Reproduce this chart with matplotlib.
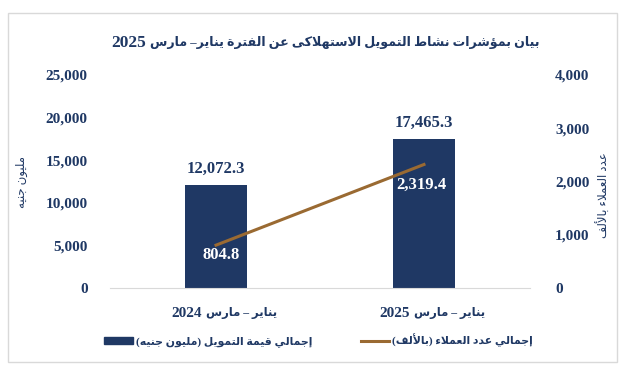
import re
import matplotlib
matplotlib.use("Agg")
import matplotlib.pyplot as plt
from matplotlib.patches import Rectangle, Patch
from matplotlib.lines import Line2D

# ---- data ----
period_names = ["يناير – مارس", "يناير – مارس"]
period_years = ["2024", "2025"]
finance_value = [12072.3, 17465.3]     # مليون جنيه
clients = [804.8, 2319.4]              # بالألف
left_ticks = [0, 5000, 10000, 15000, 20000, 25000]
right_ticks = [0, 1000, 2000, 3000, 4000]

title = "بيان بمؤشرات نشاط التمويل الاستهلاكى عن الفترة يناير– مارس"
title_year = "2025"
left_label = "مليون جنيه"
right_label = "عدد العملاء بالألف"
bar_name = "إجمالي قيمة التمويل (مليون جنيه)"
line_name = "إجمالي عدد العملاء (بالألف)"

NAVY = "#1F3864"
BROWN = "#9A6A32"

# ---- minimal arabic shaping (matplotlib has no bidi / joining) ----
DUAL = {'ئ': 0xFE89, 'ب': 0xFE8F, 'ت': 0xFE95, 'ث': 0xFE99, 'ج': 0xFE9D, 'ح': 0xFEA1,
        'خ': 0xFEA5, 'س': 0xFEB1, 'ش': 0xFEB5, 'ص': 0xFEB9, 'ض': 0xFEBD, 'ط': 0xFEC1,
        'ظ': 0xFEC5, 'ع': 0xFEC9, 'غ': 0xFECD, 'ف': 0xFED1, 'ق': 0xFED5, 'ك': 0xFED9,
        'ل': 0xFEDD, 'م': 0xFEE1, 'ن': 0xFEE5, 'ه': 0xFEE9, 'ي': 0xFEF1}
RIGHT = {'آ': 0xFE81, 'أ': 0xFE83, 'ؤ': 0xFE85, 'إ': 0xFE87, 'ا': 0xFE8D, 'ة': 0xFE93,
         'د': 0xFEA9, 'ذ': 0xFEAB, 'ر': 0xFEAD, 'ز': 0xFEAF, 'و': 0xFEED, 'ى': 0xFEEF}
LAMALEF = {'آ': 0xFEF5, 'أ': 0xFEF7, 'إ': 0xFEF9, 'ا': 0xFEFB}


def is_letter(x):
    return isinstance(x, tuple) or x in DUAL or x in RIGHT or x == 'ء'


def ar(s):
    chars = []
    i = 0
    while i < len(s):
        if s[i] == 'ل' and i + 1 < len(s) and s[i + 1] in LAMALEF:
            chars.append(('LA', s[i + 1]))
            i += 2
        else:
            chars.append(s[i])
            i += 1
    out = []
    for k, x in enumerate(chars):
        prev = chars[k - 1] if k > 0 else None
        nxt = chars[k + 1] if k + 1 < len(chars) else None
        jp = isinstance(prev, str) and prev in DUAL
        jn = nxt is not None and is_letter(nxt)
        if isinstance(x, tuple):
            out.append(chr(LAMALEF[x[1]] + (1 if jp else 0)))
        elif x in DUAL:
            b = DUAL[x]
            out.append(chr(b + (3 if jp and jn else 1 if jp else 2 if jn else 0)))
        elif x in RIGHT:
            out.append(chr(RIGHT[x] + (1 if jp else 0)))
        elif x == 'ء':
            out.append(chr(0xFE80))
        else:
            out.append(x)
    rev = "".join(out)[::-1]
    rev = rev.translate(str.maketrans("()", ")("))
    return re.sub(r"[0-9A-Za-z.,]+", lambda m: m.group(0)[::-1], rev)


plt.rcParams["font.family"] = ["Liberation Serif", "DejaVu Sans"]
plt.rcParams["font.weight"] = "bold"

fig = plt.figure(figsize=(6.25, 3.7), dpi=100)
ax = fig.add_axes([0.176, 0.2216, 0.672, 0.5757])
ax2 = ax.twinx()

x = [0, 1]
ax.bar(x, finance_value, width=0.3, color=NAVY, zorder=2)
ax2.plot(x, clients, color=BROWN, lw=2.2, zorder=3)

ax.set_xlim(-0.51, 1.51)
ax.set_ylim(0, 25000)
ax2.set_ylim(0, 4000)

ax.set_yticks(left_ticks)
ax.set_yticklabels([f"{v:,}" for v in left_ticks])
ax2.set_yticks(right_ticks)
ax2.set_yticklabels([f"{v:,}" for v in right_ticks])
ax.set_xticks(x)
ax.set_xticklabels([])

for a in (ax, ax2):
    for s in a.spines.values():
        s.set_visible(False)
    a.tick_params(length=0, colors=NAVY, labelsize=11)
ax.spines["bottom"].set_visible(True)
ax.spines["bottom"].set_color("#D9D9D9")
ax.tick_params(axis="y", pad=16)
ax2.tick_params(axis="y", pad=18)

# category labels: year (latin, left) + arabic period name (right)
for xi, name, yr in zip(x, period_names, period_years):
    ax.annotate(yr, (xi, 0), xytext=(-10.5, -18), textcoords="offset points",
                ha="right", va="center", color=NAVY, fontsize=11, fontweight="bold",
                annotation_clip=False)
    ax.annotate(ar(name), (xi, 0), xytext=(-7, -18), textcoords="offset points",
                ha="left", va="center", color=NAVY, fontsize=8.4, fontweight="bold",
                annotation_clip=False)

for xi, v in zip(x, finance_value):
    ax.annotate(f"{v:,.1f}", (xi, v), xytext=(0, 6), textcoords="offset points",
                ha="center", va="bottom", color=NAVY, fontsize=12, fontweight="bold")
# white labels sit just under the line ends
offsets = [(4, -7), (-2, -14.5)]
for xi, v, off in zip(x, clients, offsets):
    ax2.annotate(f"{v:,.1f}", (xi, v), xytext=off, textcoords="offset points",
                 ha="center", va="center", color="white", fontsize=12, fontweight="bold")

ax.set_ylabel(ar(left_label), color=NAVY, fontsize=8.5)
ax.yaxis.set_label_coords(-0.195, 0.5)
ax2.set_ylabel(ar(right_label), color=NAVY, fontsize=8.5, rotation=90)
ax2.yaxis.set_label_coords(1.158, 0.437)

fig.text(540 / 625, 0.885, ar(title), ha="right", va="center", color=NAVY, fontsize=9.1,
         fontweight="bold")
fig.text(146 / 625, 0.885, title_year, ha="right", va="center", color=NAVY, fontsize=12.5,
         fontweight="bold")

handles = [Patch(color=NAVY), Line2D([], [], color=BROWN, lw=2.2)]
fig.legend(handles, [ar(bar_name), ar(line_name)], ncol=2, loc="center",
           bbox_to_anchor=(0.51, 0.08), frameon=False, fontsize=7.8,
           labelcolor=NAVY, handlelength=2.6, columnspacing=4.5, handletextpad=0.3)

fig.add_artist(Rectangle((8 / 625, 1 - 362 / 370), 609 / 625, 349 / 370,
                         transform=fig.transFigure, fill=False, ec="#D9D9D9", lw=1))

fig.savefig("out.png", dpi=100)
